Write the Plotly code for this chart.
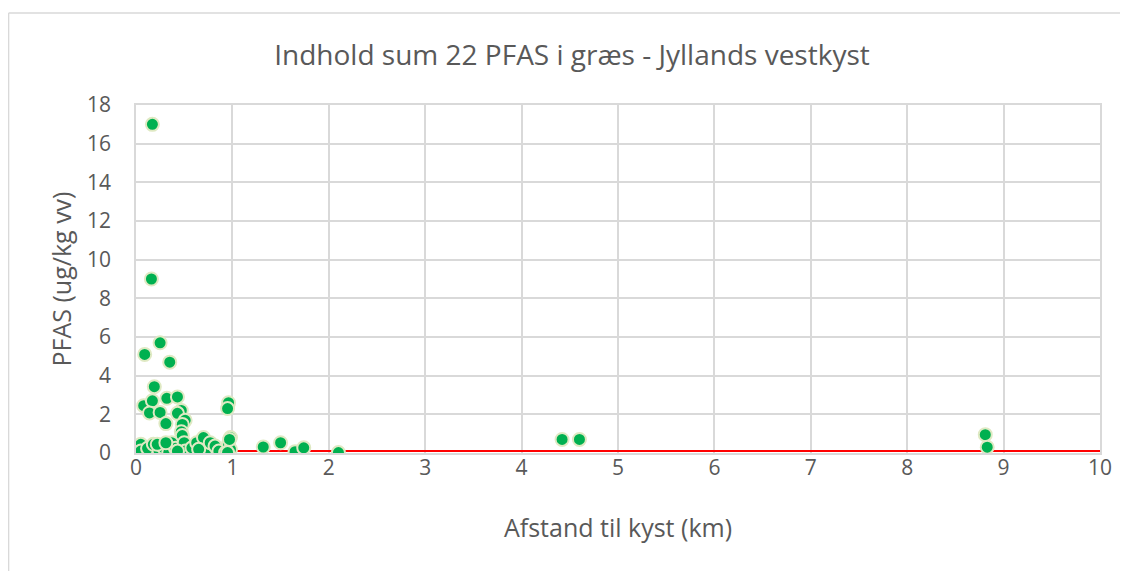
import plotly.graph_objects as go

# Distance to coast (km) and sum of 22 PFAS in grass (ug/kg ww)
afstand_km = [
    0.17, 0.16, 0.09, 0.25, 0.35, 0.19, 0.08, 0.17, 0.32, 0.43,
    0.14, 0.25, 0.47, 0.43, 0.51, 0.31, 0.48, 0.47, 0.48, 0.96,
    0.95, 0.05, 0.05, 0.12, 0.18, 0.24, 0.29, 0.34, 0.37, 0.41,
    0.50, 0.51, 0.58, 0.63, 0.70, 0.72, 0.77, 0.82, 0.86, 0.93,
    0.98, 0.96, 0.98, 0.22, 0.31, 0.43, 0.65, 0.97, 0.95, 1.32,
    1.50, 1.65, 1.74, 2.10, 4.42, 4.60, 8.81, 8.83,
]
pfas = [
    17.0, 9.0, 5.1, 5.7, 4.7, 3.43, 2.45, 2.7, 2.83, 2.9,
    2.07, 2.1, 2.2, 2.05, 1.69, 1.52, 1.48, 1.1, 0.9, 2.6,
    2.3, 0.45, 0.1, 0.24, 0.45, 0.1, 0.27, 0.02, 0.53, 0.24,
    0.53, 0.1, 0.27, 0.53, 0.8, 0.1, 0.53, 0.36, 0.1, 0.02,
    0.8, 0.48, 0.19, 0.45, 0.53, 0.1, 0.19, 0.7, 0.02, 0.31,
    0.53, 0.07, 0.27, 0.02, 0.7, 0.7, 0.95, 0.3,
]
graense_x = [0, 10]
graense_y = [0.1, 0.1]

title = "Indhold sum 22 PFAS i græs - Jyllands vestkyst"
x_title = "Afstand til kyst (km)"
y_title = "PFAS (ug/kg vv)"

font_family = "Open Sans, Noto Sans, sans-serif"
grey = "#595959"
grid = "#d9d9d9"

fig = go.Figure()
fig.add_trace(go.Scatter(
    x=graense_x, y=graense_y, mode="lines",
    line=dict(color="#ff0000", width=2), hoverinfo="skip", showlegend=False,
))
fig.add_trace(go.Scatter(
    x=afstand_km, y=pfas, mode="markers",
    marker=dict(size=13, color="#00b050", line=dict(color="#dfe9c3", width=2)),
    showlegend=False,
))

fig.update_layout(
    width=1128, height=571,
    margin=dict(l=127.5, r=36, t=97, b=126),
    paper_bgcolor="white", plot_bgcolor="white",
    font=dict(family=font_family, color=grey, size=21),
    title=dict(text=title, x=0.5, xanchor="center", y=0.918, yanchor="middle",
               font=dict(size=28, color=grey, family=font_family)),
    xaxis=dict(range=[0, 10], dtick=1, showgrid=True, gridcolor=grid, gridwidth=1.5,
               zeroline=False, showline=True, linecolor=grid, linewidth=1.5, mirror=True,
               ticks="", tickfont=dict(size=21, color=grey), ticklabelstandoff=-5,
               title=dict(text=x_title, font=dict(size=25, color=grey), standoff=40)),
    yaxis=dict(range=[0, 18], dtick=2, showgrid=True, gridcolor=grid, gridwidth=1.5,
               zeroline=False, showline=True, linecolor=grid, linewidth=1.5, mirror=True,
               ticks="", tickfont=dict(size=21, color=grey), ticklabelstandoff=19,
               title=dict(text=y_title, font=dict(size=25, color=grey), standoff=8)),
    shapes=[
        dict(type="line", xref="paper", yref="paper", x0=-0.1322, x1=1.1, y0=1.2644, y1=1.2644,
             line=dict(color=grid, width=1.5)),
        dict(type="line", xref="paper", yref="paper", x0=-0.1322, x1=-0.1322, y0=1.2644, y1=-0.35,
             line=dict(color=grid, width=1.5)),
    ],
)

fig.write_html("out.html")
